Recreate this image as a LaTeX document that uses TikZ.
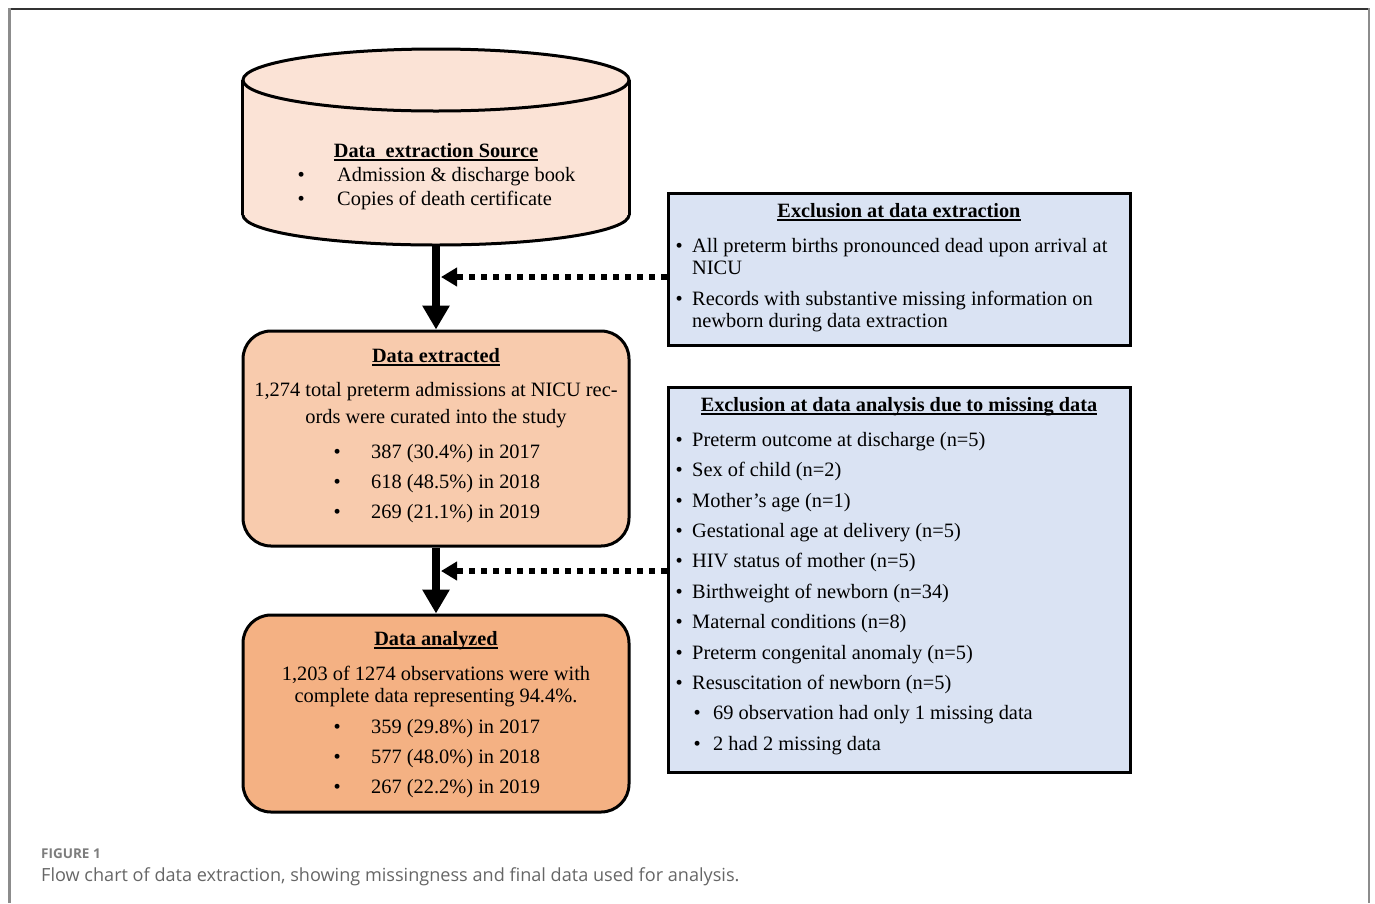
\documentclass[tikz,border=0pt]{standalone}
\usepackage{fontspec}
\setmainfont{Liberation Serif}
\newfontfamily\capfont{Open Sans}
\usetikzlibrary{positioning}
\usetikzlibrary{arrows.meta}

\definecolor{srcfill}{HTML}{FBE3D6}
\definecolor{extfill}{HTML}{F8CBAD}
\definecolor{anafill}{HTML}{F4B183}
\definecolor{exclfill}{HTML}{DAE3F3}
\definecolor{capgray}{HTML}{666666}

\newcommand{\blt}[1]{\makebox[#1][l]{\textbullet}}
\newcommand{\uln}[1]{\setbox0\hbox{#1}\rlap{\rule[-3.5pt]{\wd0}{1.4pt}}\box0}

\begin{document}
\begin{tikzpicture}[x=1pt, y=-1pt,
        flowbox/.style={draw, line width=3pt, rounded corners=28pt, minimum width=386, inner sep=0pt},
        exclbox/.style={draw, line width=3pt, fill=exclfill, minimum width=462, inner sep=0pt},
        boxtitle/.style={anchor=base, inner sep=0pt, font=\fontsize{20.3}{24}\selectfont\bfseries},
        linetext/.style={inner sep=0pt, font=\fontsize{20.4}{24}\selectfont},
        bigarrow/.style={line width=8pt, arrows = -{Triangle[length=24pt,width=26pt]}},
        dotarrow/.style={line width=6pt, dash pattern=on 6pt off 6pt, arrows = -{Triangle[length=16pt,width=18pt]}}]

            %\draw [help lines, step=50] (0,0) grid (1375,903);
            \useasboundingbox (0,0) rectangle (1375,903);

            % frame of the figure
            \draw[line width=2pt, black!80] (8,8.5) -- (1370,8.5);
            \draw[line width=2.5pt, black!45] (9.5,8) -- (9.5,903) (1369,8) -- (1369,903);

            % source cylinder
            \path   (436,147) node (src) [minimum width=386, minimum height=196, inner sep=0pt] {};
            \filldraw[fill=srcfill, line width=3pt] (436,215) ellipse [x radius=193, y radius=30];
            \fill[srcfill] (243,80) rectangle (629,215);
            \draw[line width=3pt] (src.west |- 0,80) -- (src.west |- 0,215) (src.east |- 0,80) -- (src.east |- 0,215);
            \filldraw[fill=srcfill, line width=3pt] (436,80) ellipse [x radius=193, y radius=31];

            \path   (436,438.5) node (ext) [flowbox, fill=extfill, minimum height=215] {}
                    (436,713.5) node (ana) [flowbox, fill=anafill, minimum height=197] {}
                    (899,269) node (exA) [exclbox, minimum height=152] {}
                    (899,579.5) node (exB) [exclbox, minimum height=385] {};

            \path   (436,157) node (srcT) [boxtitle] {\uln{Data~~extraction Source}}
                    (436,362) node (extT) [boxtitle] {\uln{Data extracted}}
                    (436,645) node (anaT) [boxtitle] {\uln{Data analyzed}}
                    (899,217) node (exAT) [boxtitle] {\uln{Exclusion at data extraction}}
                    (899,411) node (exBT) [boxtitle] {\uln{Exclusion at data analysis due to missing data}};

            % box texts
            \foreach \y/\t [count=\i] in {181/{Admission \& discharge book}, 205/{Copies of death certificate}}
                \node (src-\i) [linetext, anchor=base west] at (297.5,\y) {\blt{39.5pt}\t};

            \path   (436,396) node (ext-a) [linetext, anchor=base] {1,274 total preterm admissions at NICU rec-}
                    (436,423) node (ext-b) [linetext, anchor=base] {ords were curated into the study}
                    (436,680) node (ana-a) [linetext, anchor=base] {1,203 of 1274 observations were with}
                    (436,702) node (ana-b) [linetext, anchor=base] {complete data representing 94.4\%.};

            \foreach \y/\t [count=\i] in {458/{387 (30.4\%) in 2017}, 488/{618 (48.5\%) in 2018}, 518/{269 (21.1\%) in 2019}}
                \node (ext-\i) [linetext, anchor=base west] at (333.5,\y) {\blt{37.5pt}\t};
            \foreach \y/\t [count=\i] in {733/{359 (29.8\%) in 2017}, 763/{577 (48.0\%) in 2018}, 793/{267 (22.2\%) in 2019}}
                \node (ana-\i) [linetext, anchor=base west] at (333.5,\y) {\blt{37.5pt}\t};

            \path   (675.5,252) node (exA-1) [linetext, anchor=base west] {\blt{16.5pt}All preterm births pronounced dead upon arrival at}
                    (692,274) node (exA-1b) [linetext, anchor=base west] {NICU}
                    (675.5,305) node (exA-2) [linetext, anchor=base west] {\blt{16.5pt}Records with substantive missing information on}
                    (692,327) node (exA-2b) [linetext, anchor=base west] {newborn during data extraction};

            \foreach \y/\t [count=\i] in {446/{Preterm outcome at discharge (n=5)}, 476/{Sex of child (n=2)},
                    507/{Mother’s age (n=1)}, 537/{Gestational age at delivery (n=5)}, 567/{HIV status of mother (n=5)},
                    598/{Birthweight of newborn (n=34)}, 628/{Maternal conditions (n=8)},
                    659/{Preterm congenital anomaly (n=5)}, 689/{Resuscitation of newborn (n=5)}}
                \node (exB-\i) [linetext, anchor=base west] at (675.5,\y) {\blt{16.5pt}\t};
            \foreach \y/\t [count=\i] in {719/{69 observation had only 1 missing data}, 750/{2 had 2 missing data}}
                \node (exBs-\i) [linetext, anchor=base west] at (693.5,\y) {\blt{19.5pt}\t};

            % connectors
            \coordinate (srcbot) at (436,245);
            \coordinate (jA) at (441,277);
            \coordinate (jB) at (441,571);
            \draw[bigarrow] (srcbot) -- (ext.north);
            \draw[bigarrow] (ext.south) -- (ana.north);
            \draw[dotarrow] (jA -| exA.west) -- (jA);
            \draw[dotarrow] (jB -| exB.west) -- (jB);

            % caption
            \path   (41,858) node (figno) [anchor=base west, inner sep=0pt, text=capgray!85, font=\capfont\bfseries\fontsize{13.5}{15}\selectfont] {FIGURE 1}
                    (41,881) node (figcap) [anchor=base west, inner sep=0pt, text=capgray, font=\capfont\fontsize{18.1}{21}\selectfont] {Flow chart of data extraction, showing missingness and final data used for analysis.};

        \end{tikzpicture}
\end{document}
